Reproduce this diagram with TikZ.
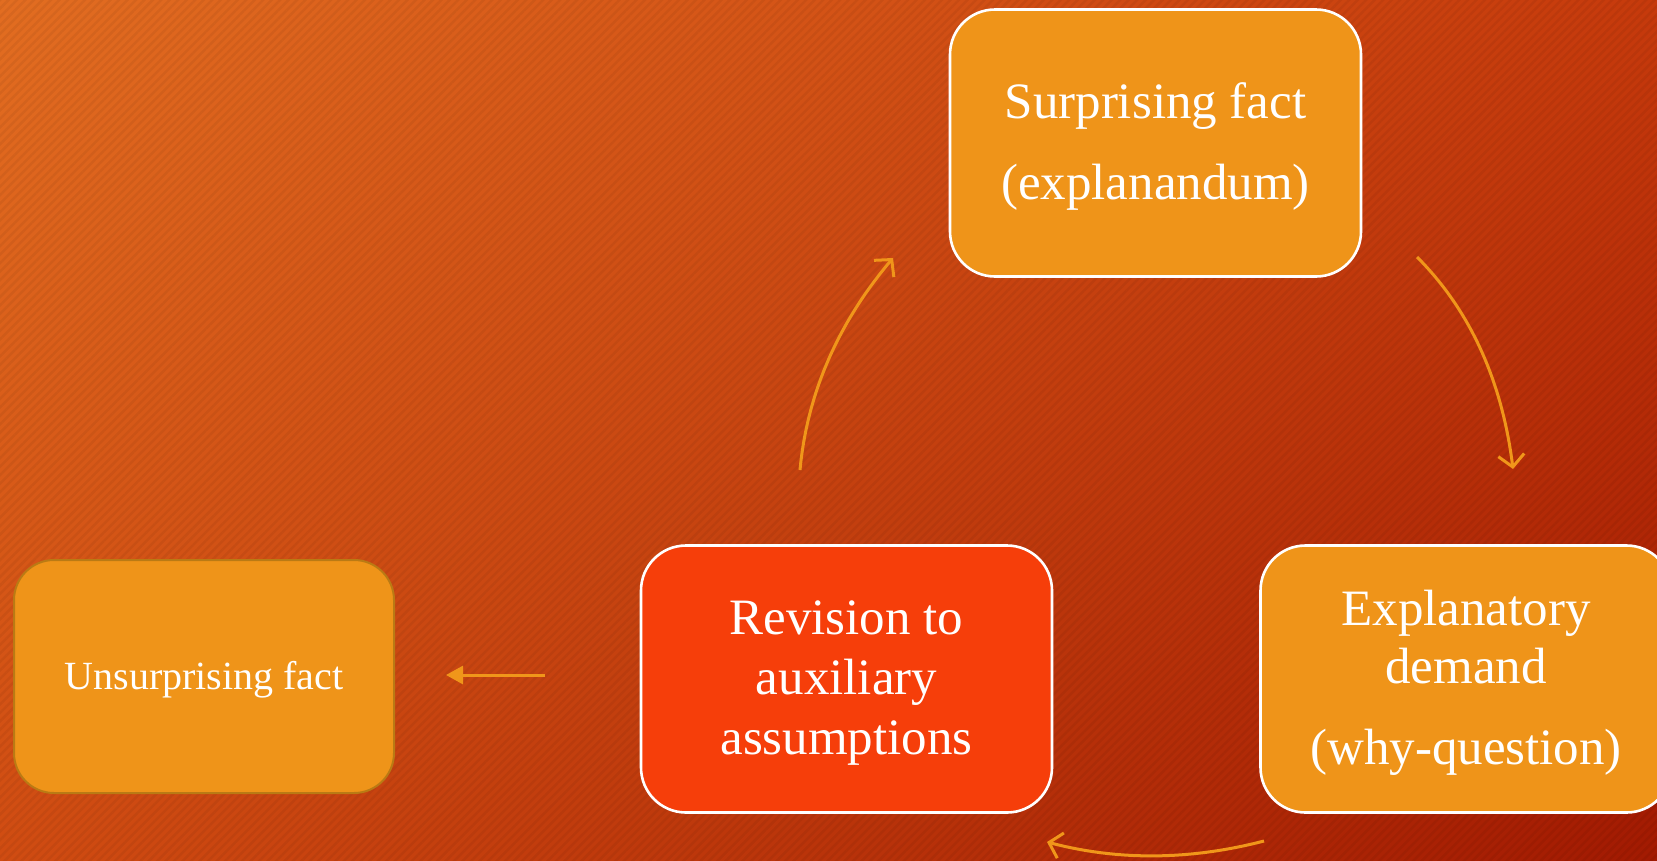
\documentclass[tikz,border=0pt]{standalone}
\usepackage{fontspec}
\setmainfont{Liberation Serif}
\usetikzlibrary{arrows.meta,patterns.meta,shadings}
\definecolor{bgTL}{HTML}{E26D21}
\definecolor{bgTR}{HTML}{C63A0C}
\definecolor{bgBL}{HTML}{D04C12}
\definecolor{bgBR}{HTML}{A21A02}
\definecolor{boxorange}{HTML}{EF9419}
\definecolor{boxred}{HTML}{F63E0A}
\definecolor{arrowcol}{HTML}{F0961A}
\definecolor{goldedge}{HTML}{BA7A14}
\newcommand{\lift}[1]{\rule{0pt}{#1}}
\tikzset{
  stepbox/.style={rounded corners=45pt, fill=boxorange, draw=white, line width=2.6pt,
    text=white, align=center, inner sep=0pt, minimum width=411pt, minimum height=267pt,
    font=\fontsize{51}{58}\selectfont},
  redbox/.style={stepbox, fill=boxred, font=\fontsize{51}{60}\selectfont},
  plainbox/.style={stepbox, draw=goldedge, line width=2pt, minimum width=380pt, minimum height=233pt,
    rounded corners=40pt, font=\fontsize{40}{46}\selectfont},
  cyc/.style={draw=arrowcol, line width=3pt, -{Straight Barb[length=12pt,width=26pt,line width=3pt]}},
  flat/.style={draw=arrowcol, line width=3pt, -{Triangle[length=17pt,width=18pt]}}
}
\begin{document}
\begin{tikzpicture}[x=1pt,y=-1pt]
\useasboundingbox (0,0) rectangle (1657,860);
\shade[upper left=bgTL, upper right=bgTR, lower left=bgBL, lower right=bgBR] (0,0) rectangle (1657,860);
\begin{scope}[transparency group, opacity=0.05]
\fill[pattern={Lines[angle=45,distance=6pt,line width=2.5pt]}, pattern color=black] (0,0) rectangle (1657,860);
\end{scope}

\node[stepbox] (surp) at (1155.5,143) {\lift{42pt}Surprising fact\\[23pt](explanandum)};
\node[stepbox] (expl) at (1466,679) {\lift{42pt}Explanatory\\demand\\[23pt](why-question)};
\node[redbox] (rev) at (846.5,679) {\lift{42pt}Revision to\\auxiliary\\assumptions};
\node[plainbox] (unsurp) at (204,676.5) {\lift{34pt}Unsurprising fact};

\coordinate (a1s) at (1417,257);
\coordinate (a1e) at (1513,469);
\coordinate (a2s) at (1264,841);
\coordinate (a2e) at (1047,842);
\coordinate (a3s) at (800,470);
\coordinate (a3e) at (893,258);
\coordinate (a4s) at (545,675);
\coordinate (a4e) at (446,675);

\draw[cyc] (a1s) .. controls (1470,310) and (1502,381) .. (a1e);
\draw[cyc] (a2s) .. controls (1191,860) and (1119,861) .. (a2e);
\draw[cyc] (a3s) .. controls (807,394) and (838,323) .. (a3e);
\draw[flat] (a4s) -- (a4e);
\end{tikzpicture}
\end{document}
